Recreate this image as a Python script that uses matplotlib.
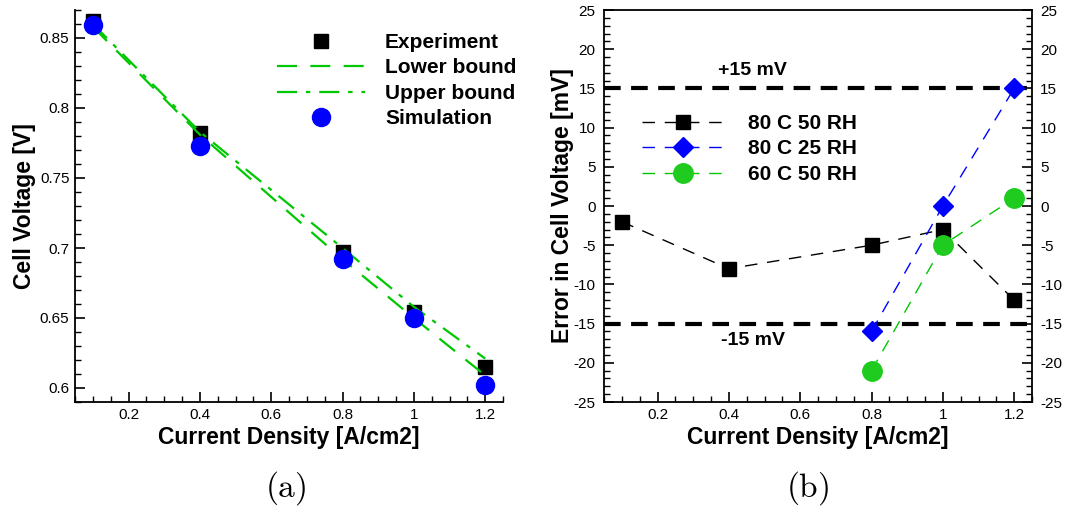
import numpy as np
import matplotlib
matplotlib.use("Agg")
import matplotlib.pyplot as plt
from matplotlib.ticker import MultipleLocator, FuncFormatter

plt.rcParams["font.family"] = ["Liberation Sans", "DejaVu Sans"]
plt.rcParams["mathtext.fontset"] = "cm"

# (a) cell voltage
current = [0.1, 0.4, 0.8, 1.0, 1.2]
experiment = [0.862, 0.782, 0.697, 0.654, 0.615]
simulation = [0.859, 0.773, 0.692, 0.650, 0.602]
lower_bound = [0.858, 0.781, 0.692, 0.650, 0.609]
upper_bound = [0.860, 0.783, 0.700, 0.658, 0.621]

# (b) error in cell voltage [mV]
x_80c50 = [0.1, 0.4, 0.8, 1.0, 1.2]
err_80c50 = [-2, -8, -5, -3, -12]
x_80c25 = [0.8, 1.0, 1.2]
err_80c25 = [-16, 0, 15]
x_60c50 = [0.8, 1.0, 1.2]
err_60c50 = [-21, -5, 1]
limits = [15, -15]

GREEN = "#00c800"
BLUE = "#0000ff"

fig = plt.figure(figsize=(10.65, 5.09), dpi=100)
W, H = 1065, 509


def ax_rect(x0, x1, y_top, y_bot):
    return [x0 / W, 1 - y_bot / H, (x1 - x0) / W, (y_bot - y_top) / H]


fmt = FuncFormatter(lambda v, p: f"{v:g}")

# ---------- panel (a)
ax1 = fig.add_axes(ax_rect(75, 503, 10, 402))
ax1.plot(current, experiment, ls="none", marker="s", ms=10, color="black",
         label="Experiment", zorder=2)
ax1.plot(current, lower_bound, color=GREEN, lw=1.6, dashes=(9, 6),
         label="Lower bound", zorder=3)
ax1.plot(current, upper_bound, color=GREEN, lw=1.6, dashes=(9, 4, 2, 4),
         label="Upper bound", zorder=3)
ax1.plot(current, simulation, ls="none", marker="o", ms=13, color=BLUE,
         label="Simulation", zorder=4)

ax1.set_xlim(0.05, 1.25)
ax1.set_ylim(0.59, 0.87)
ax1.spines["top"].set_visible(False)
ax1.spines["right"].set_visible(False)
ax1.xaxis.set_minor_locator(MultipleLocator(0.05))
ax1.yaxis.set_minor_locator(MultipleLocator(0.01))
ax1.set_xticks([0.2, 0.4, 0.6, 0.8, 1.0, 1.2])
ax1.set_yticks([0.6, 0.65, 0.7, 0.75, 0.8, 0.85])
ax1.xaxis.set_major_formatter(fmt)
ax1.yaxis.set_major_formatter(fmt)
ax1.tick_params(which="both", direction="in", labelsize=11, top=False, right=False)
ax1.tick_params(which="major", length=7, width=1.2, pad=4)
ax1.tick_params(which="minor", length=4, width=1)
ax1.set_xlabel("Current Density [A/cm2]", fontsize=16.5, fontweight="bold", labelpad=3)
ax1.set_ylabel("Cell Voltage [V]", fontsize=16.5, fontweight="bold", labelpad=3)
for s in ax1.spines.values():
    s.set_linewidth(1.3)

fig.legend(handles=ax1.get_lines(), loc="upper left",
           bbox_to_anchor=(277 / W, 1 - 33 / H), frameon=False,
           borderpad=0, borderaxespad=0, numpoints=1,
           handlelength=4.23, handletextpad=0.96, labelspacing=0.31,
           prop={"size": 15, "weight": "bold"})

# ---------- panel (b)
ax2 = fig.add_axes(ax_rect(604, 1032, 10, 402))
for y in limits:
    ax2.axhline(y, color="black", lw=3, dashes=(4, 2.5), zorder=1)
ax2.plot(x_80c50, err_80c50, color="black", lw=1, dashes=(9, 7), marker="s",
         ms=10, label="80 C 50 RH", zorder=3)
ax2.plot(x_80c25, err_80c25, color=BLUE, lw=1, dashes=(9, 7), marker="D",
         ms=10, label="80 C 25 RH", zorder=3)
ax2.plot(x_60c50, err_60c50, color=GREEN, lw=1, dashes=(9, 7), marker="o",
         mfc="#1ecb1e", mec="#1ecb1e", ms=14, label="60 C 50 RH", zorder=3)

ax2.text(0.467, 17.3, "+15 mV", fontsize=14, fontweight="bold",
         ha="center", va="center")
ax2.text(0.467, -17.1, "-15 mV", fontsize=14, fontweight="bold",
         ha="center", va="center")

ax2.set_xlim(0.05, 1.25)
ax2.set_ylim(-25, 25)
ax2.xaxis.set_minor_locator(MultipleLocator(0.05))
ax2.yaxis.set_major_locator(MultipleLocator(5))
ax2.yaxis.set_minor_locator(MultipleLocator(1))
ax2.set_xticks([0.2, 0.4, 0.6, 0.8, 1.0, 1.2])
ax2.xaxis.set_major_formatter(fmt)
ax2.yaxis.set_major_formatter(fmt)
ax2.tick_params(which="both", direction="in", labelsize=11, top=False,
                right=True, labelright=True)
ax2.tick_params(which="major", length=7, width=1.2, pad=4)
ax2.tick_params(axis="y", which="major", pad=6)
ax2.tick_params(which="minor", length=4, width=1)
ax2.set_xlabel("Current Density [A/cm2]", fontsize=16.5, fontweight="bold", labelpad=3)
ax2.set_ylabel("Error in Cell Voltage [mV]", fontsize=16.5, fontweight="bold", labelpad=0)
for s in ax2.spines.values():
    s.set_linewidth(1.3)

fig.legend(handles=ax2.get_lines()[2:], loc="upper left",
           bbox_to_anchor=(642 / W, 1 - 114 / H), frameon=False,
           borderpad=0, borderaxespad=0, numpoints=1,
           handlelength=3.9, handletextpad=1.2, labelspacing=0.31,
           prop={"size": 15, "weight": "bold"})

# captions
fig.text(286 / W, 1 - 488 / H, r"$\mathrm{(a)}$", fontsize=24, ha="center", va="center")
fig.text(808 / W, 1 - 488 / H, r"$\mathrm{(b)}$", fontsize=24, ha="center", va="center")

fig.savefig("out.png", dpi=100)
